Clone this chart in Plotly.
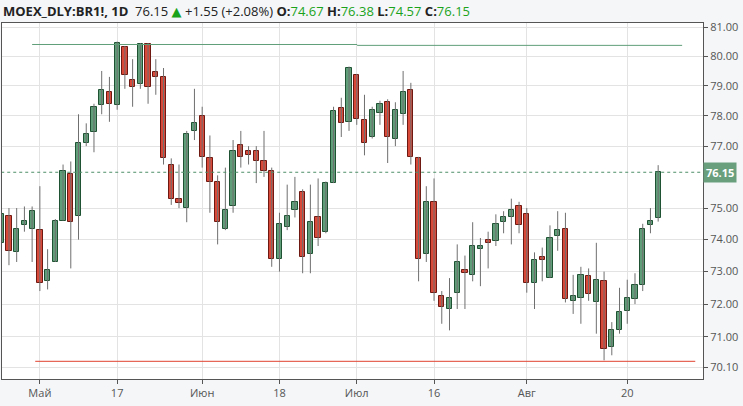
import plotly.graph_objects as go
import math

opens = [73.9,74.75,73.6,74.45,74.35,74.3,72.7,73.3,74.6,76.1,
         74.75,77.1,77.45,78.35,78.8,78.35,80.3,79.2,79.05,80.4,
         79.45,79.3,76.4,75.3,75.0,77.5,78.0,76.6,75.85,74.35,
         75.05,77.05,76.85,76.85,76.5,76.2,73.4,74.4,74.95,75.5,
         73.55,74.7,74.25,75.8,78.25,77.8,79.35,77.85,77.3,78.1,
         78.45,77.25,78.05,78.85,76.6,73.55,75.2,72.25,71.85,72.35,
         73.05,72.9,73.7,74.0,73.95,74.55,74.7,75.05,74.8,72.65,
         73.45,72.8,74.1,74.35,72.1,72.2,72.85,72.05,72.7,70.7,
         71.2,71.8,72.15,72.6,74.45,74.67]
highs = [75.0,75.0,75.0,75.05,75.05,75.7,73.7,74.65,76.4,76.5,
         78.05,77.75,78.4,79.5,79.3,80.5,80.35,79.9,80.45,80.45,
         79.9,79.6,76.6,76.4,77.5,78.9,78.3,77.35,76.05,76.3,
         77.2,77.5,77.0,77.0,77.5,76.3,74.85,75.75,76.0,75.6,
         75.75,75.95,75.85,78.3,78.6,79.65,79.4,78.7,78.3,78.5,
         78.55,78.45,79.5,79.1,76.65,75.7,75.95,72.4,72.8,73.85,
         73.5,74.55,74.05,74.25,74.8,74.9,75.3,75.2,75.0,73.6,
         73.75,74.45,74.9,74.85,72.9,73.15,73.1,73.9,73.0,71.45,
         72.5,72.75,72.95,74.5,75.0,76.38]
lows = [73.6,73.2,73.3,74.25,73.3,72.4,72.45,73.3,74.6,73.1,
        74.0,77.0,76.8,78.05,77.8,78.2,78.9,78.3,78.9,78.4,
        78.7,76.4,75.1,75.0,74.55,77.2,76.3,74.85,73.85,74.3,
        74.85,76.3,76.4,75.8,76.0,73.15,73.0,74.3,74.7,72.95,
        72.95,73.8,74.2,75.8,77.3,77.5,77.7,76.7,77.25,77.7,
        76.45,77.0,77.7,76.4,72.7,73.3,72.1,71.4,71.2,71.85,
        71.85,72.7,72.55,73.1,73.8,74.2,73.85,74.2,72.35,71.85,
        72.7,72.8,73.65,72.05,71.7,71.4,72.1,71.1,70.3,70.45,
        71.1,71.4,72.0,72.4,74.2,74.57]
closes = [74.8,73.65,74.35,74.6,74.9,72.65,73.05,74.6,76.2,74.55,
          77.1,77.4,78.3,78.85,78.4,80.45,79.35,78.95,80.4,78.95,
          79.3,76.6,75.3,75.15,77.4,77.75,76.65,75.85,74.55,74.95,
          76.85,76.65,76.7,76.5,76.2,73.4,74.5,74.75,75.2,73.45,
          74.55,74.05,75.8,78.15,77.75,79.6,77.9,77.1,78.2,78.4,
          77.3,78.2,78.8,76.65,73.4,75.2,72.35,71.9,72.2,73.3,
          72.95,73.8,73.8,73.9,74.5,74.7,74.95,74.45,72.65,73.35,
          73.35,74.05,74.3,72.15,72.25,72.9,72.3,72.75,70.65,71.2,
          71.75,72.2,72.6,74.35,74.6,76.15]
tick_idx = [5, 15, 26, 36, 46, 56, 68, 81]
tick_txt = ["Май", "17", "Июн", "18", "Июл", "16", "Авг", "20"]
y_ticks = [70.10, 71, 72, 73, 74, 75, 77, 78, 79, 80, 81]
resist_hi = 80.4
support_lo = 70.27
last_price = 76.15

n = len(opens)
x = list(range(n))
wx, wy = [], []
for i in range(n):
    wx += [i, i, None]
    wy += [lows[i], highs[i], None]

fig = go.Figure()
fig.add_trace(go.Scatter(x=wx, y=wy, mode="lines", line=dict(color="#6f6f6f", width=1),
                         hoverinfo="skip", showlegend=False))
for up in (True, False):
    idx = [i for i in range(n) if (closes[i] >= opens[i]) == up]
    fig.add_trace(go.Bar(
        x=[x[i] for i in idx],
        base=[min(opens[i], closes[i]) for i in idx],
        y=[max(abs(closes[i] - opens[i]), 0.04) for i in idx],
        width=0.68,
        marker=dict(color="#5f9e78" if up else "#d9493a",
                    line=dict(color="#1f5233" if up else "#6e1a12", width=1)),
        showlegend=False))

fig.add_trace(go.Scatter(x=[4.0, 46.05], y=[resist_hi, resist_hi], mode="lines",
                         line=dict(color="#5f9e78", width=1), showlegend=False))
fig.add_trace(go.Scatter(x=[46.05, 88.1], y=[resist_hi - 0.03, resist_hi - 0.03], mode="lines",
                         line=dict(color="#5f9e78", width=1), showlegend=False))
fig.add_trace(go.Scatter(x=[4.4, 89.8], y=[support_lo, support_lo], mode="lines",
                         line=dict(color="#e0402e", width=1), showlegend=False))
fig.add_trace(go.Scatter(x=[0, 91], y=[last_price, last_price], mode="lines",
                         line=dict(color="#4f8f68", width=1, dash="dot"), showlegend=False))

lo = math.log10(70.1) - 12 * 1.8463e-4
hi = math.log10(81) + 4 * 1.8463e-4
fig.update_layout(
    width=743, height=406, margin=dict(l=2, r=40, t=23, b=27),
    paper_bgcolor="#f4f6f8", plot_bgcolor="white", barmode="overlay", bargap=0,
    font=dict(family="Open Sans, DejaVu Sans", size=11, color="#555"),
    xaxis=dict(range=[0.1, 90.8], tickvals=tick_idx, ticktext=tick_txt, automargin=False,
               showgrid=True, gridcolor="#e3e3e3", ticks="outside", ticklen=4,
               tickcolor="#555", showline=True, linecolor="#555", mirror=True,
               tickfont=dict(size=11, color="#555"), zeroline=False),
    yaxis=dict(type="log", range=[lo, hi], side="right", tickvals=y_ticks, automargin=False,
               ticktext=["%.2f" % v for v in y_ticks], showgrid=True, gridcolor="#e3e3e3",
               ticks="outside", ticklen=4, tickcolor="#555", showline=True,
               linecolor="#555", mirror=True, tickfont=dict(size=11, color="#555"),
               zeroline=False),
)
fig.add_annotation(xref="paper", yref="y", x=1.0, y=math.log10(last_price), text="<b>76.15</b>",
                   showarrow=False, xanchor="left", bgcolor="#6a9f7e",
                   font=dict(color="white", size=11), borderpad=2, xshift=0)
g = "#1aa31a"
hdr = ("<b>MOEX_DLY:BR1!, 1D</b>  76.15 <span style='color:%s'>▲</span> +1.55 (+2.08%%) "
       "<b>O:</b><span style='color:%s'>74.67</span> <b>H:</b><span style='color:%s'>76.38</span> "
       "<b>L:</b><span style='color:%s'>74.57</span> <b>C:</b><span style='color:%s'>76.15</span>") % (g, g, g, g, g)
fig.add_annotation(xref="paper", yref="paper", x=-0.002, y=1.0, yshift=12, text=hdr,
                   showarrow=False, xanchor="left", yanchor="middle",
                   font=dict(family="Open Sans, DejaVu Sans", size=13, color="#222"))
fig.write_html("out.html", config={"displayModeBar": False},
               post_script="document.body.style.margin='0';document.body.style.overflow='hidden';")
